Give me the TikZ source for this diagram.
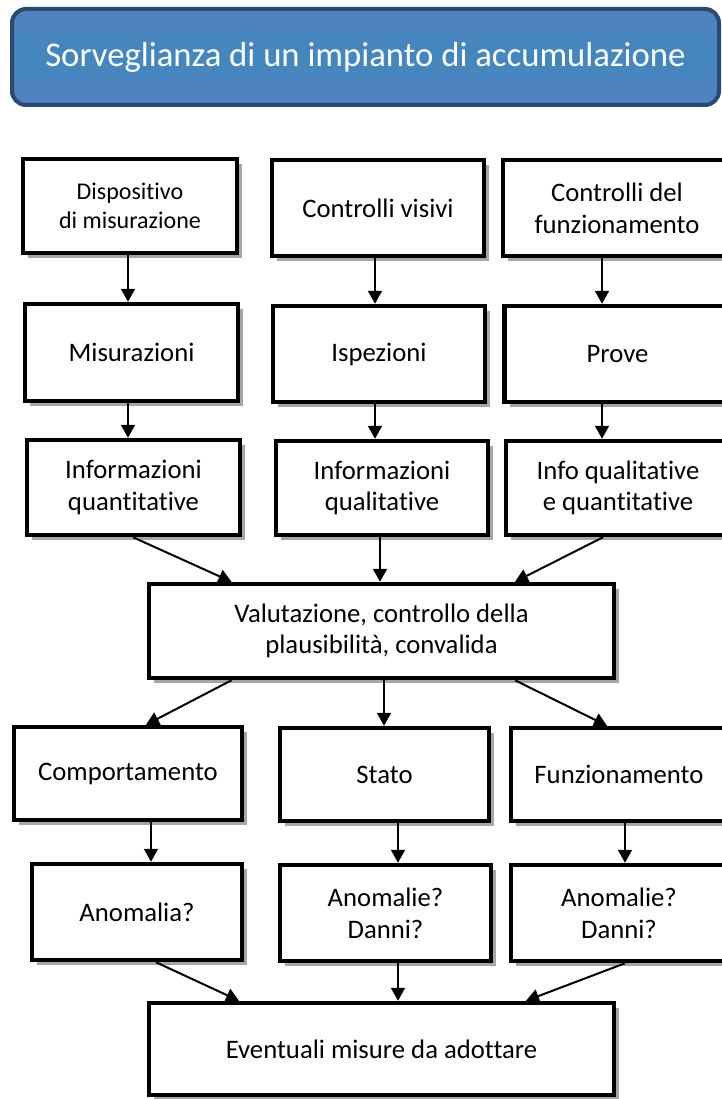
\documentclass[tikz,border=0pt]{standalone}
\usepackage{fontspec}
\setmainfont{Carlito}[Ligatures={NoCommon,NoContextual}]
\usetikzlibrary{shadows,arrows.meta,calc}
\definecolor{titletop}{HTML}{5282BF}
\definecolor{titlemid}{HTML}{4287BD}
\definecolor{titleedge}{HTML}{2B4A70}
\begin{document}
\begin{tikzpicture}[x=1pt,y=-1pt,
  box/.style={draw=black, line width=4.5pt, fill=white, align=center, inner sep=0pt,
    font=\fontsize{26.7}{31.7}\selectfont,
    drop shadow={shadow xshift=5pt, shadow yshift=-5pt, fill=black!35, opacity=1}},
  smalltext/.style={font=\fontsize{24}{28.5}\selectfont},
  titlebox/.style={draw=titleedge, line width=4pt, rounded corners=14pt,
    top color=titletop, bottom color=titletop, middle color=titlemid,
    text=white, inner sep=0pt, font=\fontsize{34.7}{40}\selectfont},
  arr/.style={line width=2pt, -{Triangle[length=13pt,width=14pt]}}]
\useasboundingbox (0,0) rectangle (721,1099);

\node[titlebox, minimum width=707pt, minimum height=96pt] (T) at (365.5,57) {Sorveglianza di un impianto di accumulazione};

% row 1
\node[box, smalltext, minimum width=214pt, minimum height=94pt] (A1) at (130,206) {Dispositivo\\di misurazione};
\node[box, minimum width=212pt, minimum height=96pt] (A2) at (378,208) {Controlli visivi};
\node[box, minimum width=228pt, minimum height=96pt] (A3) at (617,208) {Controlli del\\funzionamento};
% row 2
\node[box, minimum width=213pt, minimum height=97pt] (B1) at (131.5,352.5) {Misurazioni};
\node[box, minimum width=212pt, minimum height=96pt] (B2) at (379,354) {Ispezioni};
\node[box, minimum width=226pt, minimum height=96pt] (B3) at (617.5,354) {Prove};
% row 3
\node[box, minimum width=213pt, minimum height=95pt] (C1) at (133.5,487.5) {Informazioni\\quantitative};
\node[box, minimum width=212pt, minimum height=94pt] (C2) at (382,488) {Informazioni\\qualitative};
\node[box, minimum width=224pt, minimum height=94pt] (C3) at (618,488) {Info qualitative\\e quantitative};
% evaluation
\node[box, minimum width=465pt, minimum height=94pt] (D) at (381.5,631) {Valutazione, controllo della\\plausibilità, convalida};
% row 4
\node[box, minimum width=228pt, minimum height=93pt] (E1) at (128,773.5) {Comportamento};
\node[box, minimum width=209pt, minimum height=93pt] (E2) at (384.5,774.5) {Stato};
\node[box, minimum width=216pt, minimum height=93pt] (E3) at (619,774.5) {Funzionamento};
% row 5
\node[box, minimum width=210pt, minimum height=96pt] (F1) at (137,912) {Anomalia?};
\node[box, minimum width=211pt, minimum height=96pt] (F2) at (385.5,913) {Anomalie?\\Danni?};
\node[box, minimum width=216pt, minimum height=96pt] (F3) at (619,913) {Anomalie?\\Danni?};
% final
\node[box, minimum width=465pt, minimum height=92pt] (G) at (381.5,1049) {Eventuali misure da adottare};

% arrows row1 -> row2
\draw[arr] ([xshift=-2pt]A1.south) -- ([xshift=-2pt]A1.south |- B1.north);
\draw[arr] ([xshift=-3pt]A2.south) -- ([xshift=-3pt]A2.south |- B2.north);
\draw[arr] ([xshift=-15pt]A3.south) -- ([xshift=-15pt]A3.south |- B3.north);
% row2 -> row3
\draw[arr] ([xshift=-3.5pt]B1.south) -- ([xshift=-3.5pt]B1.south |- C1.north);
\draw[arr] ([xshift=-4pt]B2.south) -- ([xshift=-4pt]B2.south |- C2.north);
\draw[arr] ([xshift=-15.5pt]B3.south) -- ([xshift=-15.5pt]B3.south |- C3.north);
% row3 -> D
\draw[arr] ([xshift=-0.5pt]C1.south) -- ([xshift=-150pt]D.north);
\draw[arr] ([xshift=-2pt]C2.south) -- ([xshift=-2pt]C2.south |- D.north);
\draw[arr] ([xshift=-15pt]C3.south) -- ([xshift=133.5pt]D.north);
% D -> row4
\draw[arr] ([xshift=-150pt]D.south) -- ([xshift=18pt]E1.north);
\draw[arr] ([xshift=2.5pt]D.south) -- ([xshift=2.5pt]D.south |- E2.north);
\draw[arr] ([xshift=133.5pt]D.south) -- ([xshift=-12pt]E3.north);
% row4 -> row5
\draw[arr] ([xshift=23pt]E1.south) -- ([xshift=23pt]E1.south |- F1.north);
\draw[arr] ([xshift=13.5pt]E2.south) -- ([xshift=13.5pt]E2.south |- F2.north);
\draw[arr] ([xshift=6pt]E3.south) -- ([xshift=6pt]E3.south |- F3.north);
% row5 -> G
\draw[arr] ([xshift=19pt]F1.south) -- ([xshift=-142.5pt]G.north);
\draw[arr] ([xshift=16.5pt]G.north |- F2.south) -- ([xshift=16.5pt]G.north);
\draw[arr] ([xshift=6pt]F3.south) -- ([xshift=144.5pt]G.north);
\end{tikzpicture}
\end{document}
